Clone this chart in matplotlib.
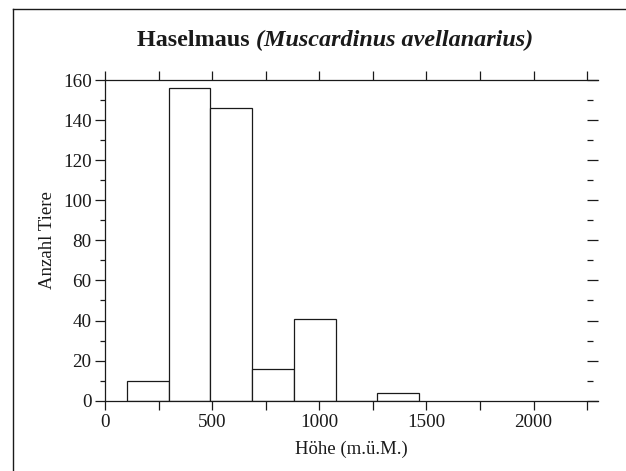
import matplotlib
matplotlib.use("Agg")
import matplotlib.pyplot as plt
from matplotlib.lines import Line2D
from matplotlib.ticker import MultipleLocator, FuncFormatter

# Data
bin_edges = [100, 295, 490, 685, 880, 1075, 1270, 1465]
counts = [10, 156, 146, 16, 41, 0, 4]
title_main = "Haselmaus "
title_species = "(Muscardinus avellanarius)"
xlabel = "Höhe (m.ü.M.)"
ylabel = "Anzahl Tiere"

plt.rcParams['font.family'] = ['Liberation Serif', 'DejaVu Serif']
ink = '#1a1a1a'

fig = plt.figure(figsize=(6.26, 4.71), dpi=100)
ax = fig.add_axes([0.1685, 0.1493, 0.9548 - 0.1685, 0.8301 - 0.1493])

lefts = bin_edges[:-1]
widths = [b - a for a, b in zip(bin_edges[:-1], bin_edges[1:])]
ax.bar(lefts, counts, width=widths, align='edge', facecolor='white',
       edgecolor=ink, linewidth=0.9)

ax.set_xlim(0, 2300)
ax.set_ylim(0, 160)

for s in ['left', 'bottom', 'top']:
    ax.spines[s].set_color(ink)
    ax.spines[s].set_linewidth(0.9)
ax.spines['right'].set_visible(False)

ax.xaxis.set_major_locator(MultipleLocator(250))
ax.xaxis.set_major_formatter(FuncFormatter(lambda v, p: f"{int(v)}" if int(round(v)) % 500 == 0 else ""))
ax.tick_params(axis='x', which='major', direction='out', length=6.5, width=0.9,
               color=ink, top=True, bottom=True, labelsize=13.8, pad=3, labelcolor=ink)

ax.yaxis.set_major_locator(MultipleLocator(20))
ax.yaxis.set_minor_locator(MultipleLocator(10))
ax.tick_params(axis='y', which='major', direction='out', length=7, width=0.9,
               color=ink, right=False, labelsize=13.8, pad=3, labelcolor=ink)
ax.tick_params(axis='y', which='minor', direction='out', length=3.5, width=0.9,
               color=ink, right=False)

sec = ax.secondary_yaxis(2250 / 2300)
sec.spines['right'].set_visible(False)
sec.yaxis.set_major_locator(MultipleLocator(20))
sec.yaxis.set_minor_locator(MultipleLocator(10))
sec.tick_params(which='major', direction='out', length=8, width=0.9, color=ink, labelright=False)
sec.tick_params(which='minor', direction='out', length=4.3, width=0.9, color=ink)

ax.set_xlabel(xlabel, fontsize=13.5, color=ink, labelpad=7)
ax.set_ylabel(ylabel, fontsize=13.5, color=ink, labelpad=5)

# Title with mixed styles
t1 = fig.text(0, 0, title_main, fontsize=17.4, fontweight='bold', color=ink)
t2 = fig.text(0, 0, title_species, fontsize=17.4, fontweight='bold', fontstyle='italic', color=ink)
fig.canvas.draw()
r = fig.canvas.get_renderer()
w1 = t1.get_window_extent(r).width / fig.bbox.width
w2 = t2.get_window_extent(r).width / fig.bbox.width
cx = 335 / 626
y_base = 1 - 46 / 471
x0 = cx - (w1 + w2) / 2
t1.set_position((x0, y_base))
t2.set_position((x0 + w1, y_base))
t1.set_va('baseline'); t2.set_va('baseline')

# Frame lines
fx = 12.5 / 626
fy = 1 - 8.5 / 471
fig.add_artist(Line2D([fx, fx], [0, fy], transform=fig.transFigure, color=ink, lw=1.0))
fig.add_artist(Line2D([fx, 1], [fy, fy], transform=fig.transFigure, color=ink, lw=1.0))

fig.savefig("out.png", dpi=100)
